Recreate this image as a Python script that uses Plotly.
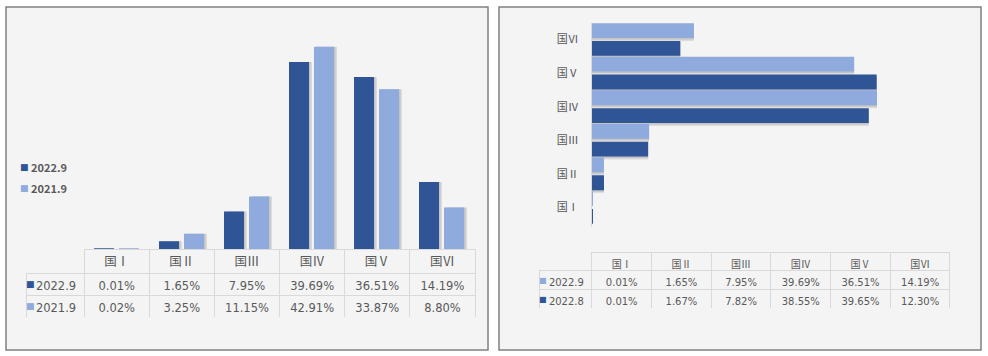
import plotly.graph_objects as go

W, H = 988, 356
FONT = "Noto Sans CJK SC"
NUMFONT = "DejaVu Sans"
DARK = "#2F5597"
LIGHT = "#8FAADC"
TXT = "#595959"
GRID = "#d9d9d9"
BG = "#f4f4f4"
SHADOW = "rgba(0,0,0,0.10)"

# ---------------- data ----------------
categories = ["国Ⅰ", "国Ⅱ", "国Ⅲ", "国Ⅳ", "国Ⅴ", "国Ⅵ"]

left_series_names = ["2022.9", "2021.9"]
left_2022_9 = [0.01, 1.65, 7.95, 39.69, 36.51, 14.19]
left_2021_9 = [0.02, 3.25, 11.15, 42.91, 33.87, 8.80]

right_series_names = ["2022.9", "2022.8"]
right_2022_9 = [0.01, 1.65, 7.95, 39.69, 36.51, 14.19]
right_2022_8 = [0.01, 1.67, 7.82, 38.55, 39.65, 12.30]


def px(x):
    return x / W


def py(y):
    return 1 - y / H


def pct(vals):
    return [f"{v:.2f}%" for v in vals]


fig = go.Figure()

# ---------------- left chart (category band = 65 px) ----------------
LB = 65.0
left_specs = [(left_2022_9, left_series_names[0], DARK, -22.5),
              (left_2021_9, left_series_names[1], LIGHT, 2.5)]
for vals, name, color, off in left_specs:
    for s in (1.5, 3.0):  # soft drop shadow
        fig.add_trace(go.Bar(x=categories, y=vals, offset=(off + s) / LB, width=20 / LB,
                             marker=dict(color=SHADOW, line=dict(width=0)),
                             xaxis="x", yaxis="y", showlegend=False, hoverinfo="skip"))
for vals, name, color, off in left_specs:
    fig.add_trace(go.Bar(x=categories, y=vals, name=name, offset=off / LB, width=20 / LB,
                         marker=dict(color=color, line=dict(width=0)),
                         xaxis="x", yaxis="y", showlegend=False))

# ---------------- right chart (category band = 34 px) ----------------
RB = 34.0
right_specs = [(right_2022_8, right_series_names[1], DARK, -16.5),
               (right_2022_9, right_series_names[0], LIGHT, 1.5)]
for vals, name, color, off in right_specs:
    for s in (1.5, 3.0):
        fig.add_trace(go.Bar(y=categories, x=vals, orientation="h",
                             offset=(off - s) / RB, width=15 / RB,
                             marker=dict(color=SHADOW, line=dict(width=0)),
                             xaxis="x2", yaxis="y2", showlegend=False, hoverinfo="skip"))
for vals, name, color, off in right_specs:
    fig.add_trace(go.Bar(y=categories, x=vals, name=name, orientation="h",
                         offset=off / RB, width=15 / RB,
                         marker=dict(color=color, line=dict(width=0)),
                         xaxis="x2", yaxis="y2", showlegend=False))

# ---------------- tables ----------------
hdr_line = ["rgba(0,0,0,0)"] + [GRID] * 6
left_cols = [left_series_names] + [[pct(left_2022_9)[i], pct(left_2021_9)[i]] for i in range(6)]
fig.add_trace(go.Table(
    domain=dict(x=[px(26), px(475)], y=[py(317), py(249)]),
    columnwidth=[58] + [65] * 6,
    header=dict(values=[""] + categories, height=24, align="center",
                fill_color=BG, line=dict(color=hdr_line, width=1),
                font=dict(family=FONT, size=12.5, color=TXT)),
    cells=dict(values=left_cols, height=22, align=["right"] + ["center"] * 6,
               fill_color=BG, line=dict(color=GRID, width=1),
               font=dict(family=NUMFONT, size=11.5, color=TXT)),
))

right_cols = [right_series_names] + [[pct(right_2022_9)[i], pct(right_2022_8)[i]] for i in range(6)]
fig.add_trace(go.Table(
    domain=dict(x=[px(539), px(951)], y=[py(308), py(252)]),
    columnwidth=[53] + [59.8] * 6,
    header=dict(values=[""] + categories, height=18, align="center",
                fill_color=BG, line=dict(color=hdr_line, width=1),
                font=dict(family=FONT, size=10, color=TXT)),
    cells=dict(values=right_cols, height=19, align=["right"] + ["center"] * 6,
               fill_color=BG, line=dict(color=GRID, width=1),
               font=dict(family=NUMFONT, size=10, color=TXT)),
))

# ---------------- panels ----------------
shapes = [
    dict(type="rect", xref="paper", yref="paper", x0=px(6), x1=px(488), y0=py(350), y1=py(7),
         fillcolor=BG, line=dict(color="#808080", width=1.5), layer="below"),
    dict(type="rect", xref="paper", yref="paper", x0=px(499), x1=px(981), y0=py(350), y1=py(7),
         fillcolor=BG, line=dict(color="#808080", width=1.5), layer="below"),
]


def square(x, y, color, size):
    return dict(xref="paper", yref="paper", x=px(x), y=py(y), xanchor="center", yanchor="middle",
                text="■", showarrow=False, font=dict(family="DejaVu Sans", size=size, color=color))


annotations = [
    # left legend
    square(24, 167, DARK, 9),
    dict(xref="paper", yref="paper", x=px(29), y=py(167), xanchor="left", yanchor="middle",
         text="<b>" + left_series_names[0] + "</b>", showarrow=False,
         font=dict(family=FONT, size=11, color=TXT)),
    square(24, 188, LIGHT, 9),
    dict(xref="paper", yref="paper", x=px(29), y=py(188), xanchor="left", yanchor="middle",
         text="<b>" + left_series_names[1] + "</b>", showarrow=False,
         font=dict(family=FONT, size=11, color=TXT)),
    # table swatches
    square(31, 284, DARK, 9),
    square(31, 306, LIGHT, 9),
    square(543, 280.5, LIGHT, 8),
    square(543, 299.5, DARK, 8),
]

fig.update_layout(
    width=W, height=H,
    margin=dict(l=0, r=0, t=0, b=0),
    paper_bgcolor="white", plot_bgcolor="rgba(0,0,0,0)",
    barmode="overlay",
    shapes=shapes, annotations=annotations,
    font=dict(family=FONT, color=TXT),
    xaxis=dict(domain=[px(84), px(474)], anchor="y", showticklabels=False, ticks="",
               showgrid=False, showline=False, zeroline=False),
    yaxis=dict(domain=[py(249), py(13.3)], anchor="x", range=[0, 50], visible=False),
    xaxis2=dict(domain=[px(592), px(951)], anchor="y2", range=[0, 50], visible=False),
    yaxis2=dict(domain=[py(226.7), py(22.7)], anchor="x2", showgrid=False, zeroline=False,
                showline=True, linecolor=GRID, linewidth=1, ticks="",
                ticklabelstandoff=10,
                tickfont=dict(family=FONT, size=11, color=TXT)),
)

fig.write_html("out.html", config={"displayModeBar": False},
               post_script="document.body.style.margin='0';document.body.style.padding='0';")
